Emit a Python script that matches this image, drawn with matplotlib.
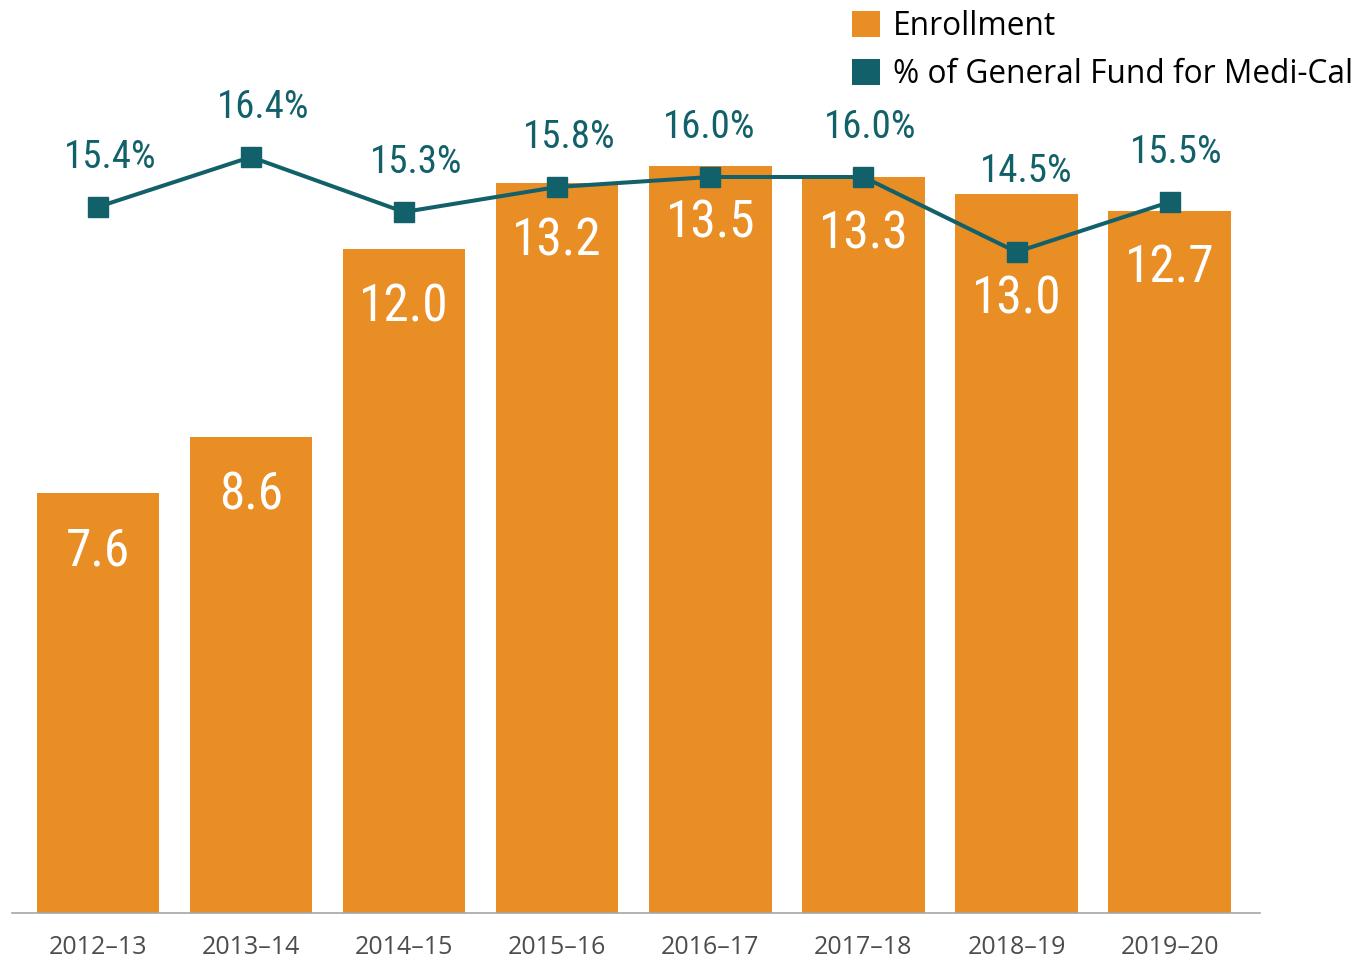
import matplotlib
matplotlib.use("Agg")
import matplotlib.pyplot as plt
from matplotlib.patches import Patch

years = ["2012–13", "2013–14", "2014–15", "2015–16", "2016–17", "2017–18", "2018–19", "2019–20"]
enrollment = [7.6, 8.6, 12.0, 13.2, 13.5, 13.3, 13.0, 12.7]
gf_share = [15.4, 16.4, 15.3, 15.8, 16.0, 16.0, 14.5, 15.5]

ORANGE = "#E98E25"
TEAL = "#12616A"
NARROW = ["Roboto Condensed", "Liberation Sans Narrow", "Roboto", "DejaVu Sans"]
REG = ["Open Sans", "DejaVu Sans"]

# label offsets in points (dx, dy)
pct_offsets = [(9, 36), (9, 36), (9, 36), (9, 36), (-1, 36), (5, 36), (7, 58), (5, 36)]
bar_offsets = [-42, -42, -42, -42, -41, -41, -76, -42]

fig = plt.figure(figsize=(13.55, 9.6), dpi=100)
ax = fig.add_axes([12 / 1355, 47 / 960, 1248 / 1355, 813 / 960])
x = list(range(len(years)))

ax.bar(x, enrollment, width=0.8, color=ORANGE, zorder=2)
ax.set_xlim(-0.56, 7.59)
ax.set_ylim(0, 14.70)
for s in ["top", "right", "left"]:
    ax.spines[s].set_visible(False)
ax.spines["bottom"].set_color("#A6A6A6")
ax.spines["bottom"].set_linewidth(1.2)
ax.set_yticks([])
ax.set_xticks(x)
ax.set_xticklabels(years, fontsize=18, color="#4D4D4D", family=REG)
ax.tick_params(axis="x", length=0, pad=16)

for xi, v, dy in zip(x, enrollment, bar_offsets):
    ax.annotate(f"{v:.1f}", (xi, v), xytext=(0, dy), textcoords="offset points",
                ha="center", va="center", color="white", fontsize=37, family=NARROW)

ax2 = ax.twinx()
ax2.set_ylim(1.28, 17.54)
ax2.plot(x, gf_share, color=TEAL, lw=2.9, marker="s", markersize=14.5, zorder=3)
ax2.axis("off")
for xi, v, (dx, dy) in zip(x, gf_share, pct_offsets):
    ax2.annotate(f"{v:.1f}%", (xi, v), xytext=(dx, dy), textcoords="offset points",
                 ha="center", va="center", color=TEAL, fontsize=28, family=NARROW)

handles = [Patch(facecolor=ORANGE), Patch(facecolor=TEAL)]
fig.legend(handles, ["Enrollment", "% of General Fund for Medi-Cal"],
           loc="upper left", bbox_to_anchor=(849 / 1355, 1 - 7 / 960), frameon=False,
           prop={"family": REG, "size": 22.8}, handlelength=0.88, handleheight=0.88,
           handletextpad=0.4, labelspacing=0.46, borderaxespad=0, borderpad=0.1)

fig.savefig("out.png", dpi=100)
